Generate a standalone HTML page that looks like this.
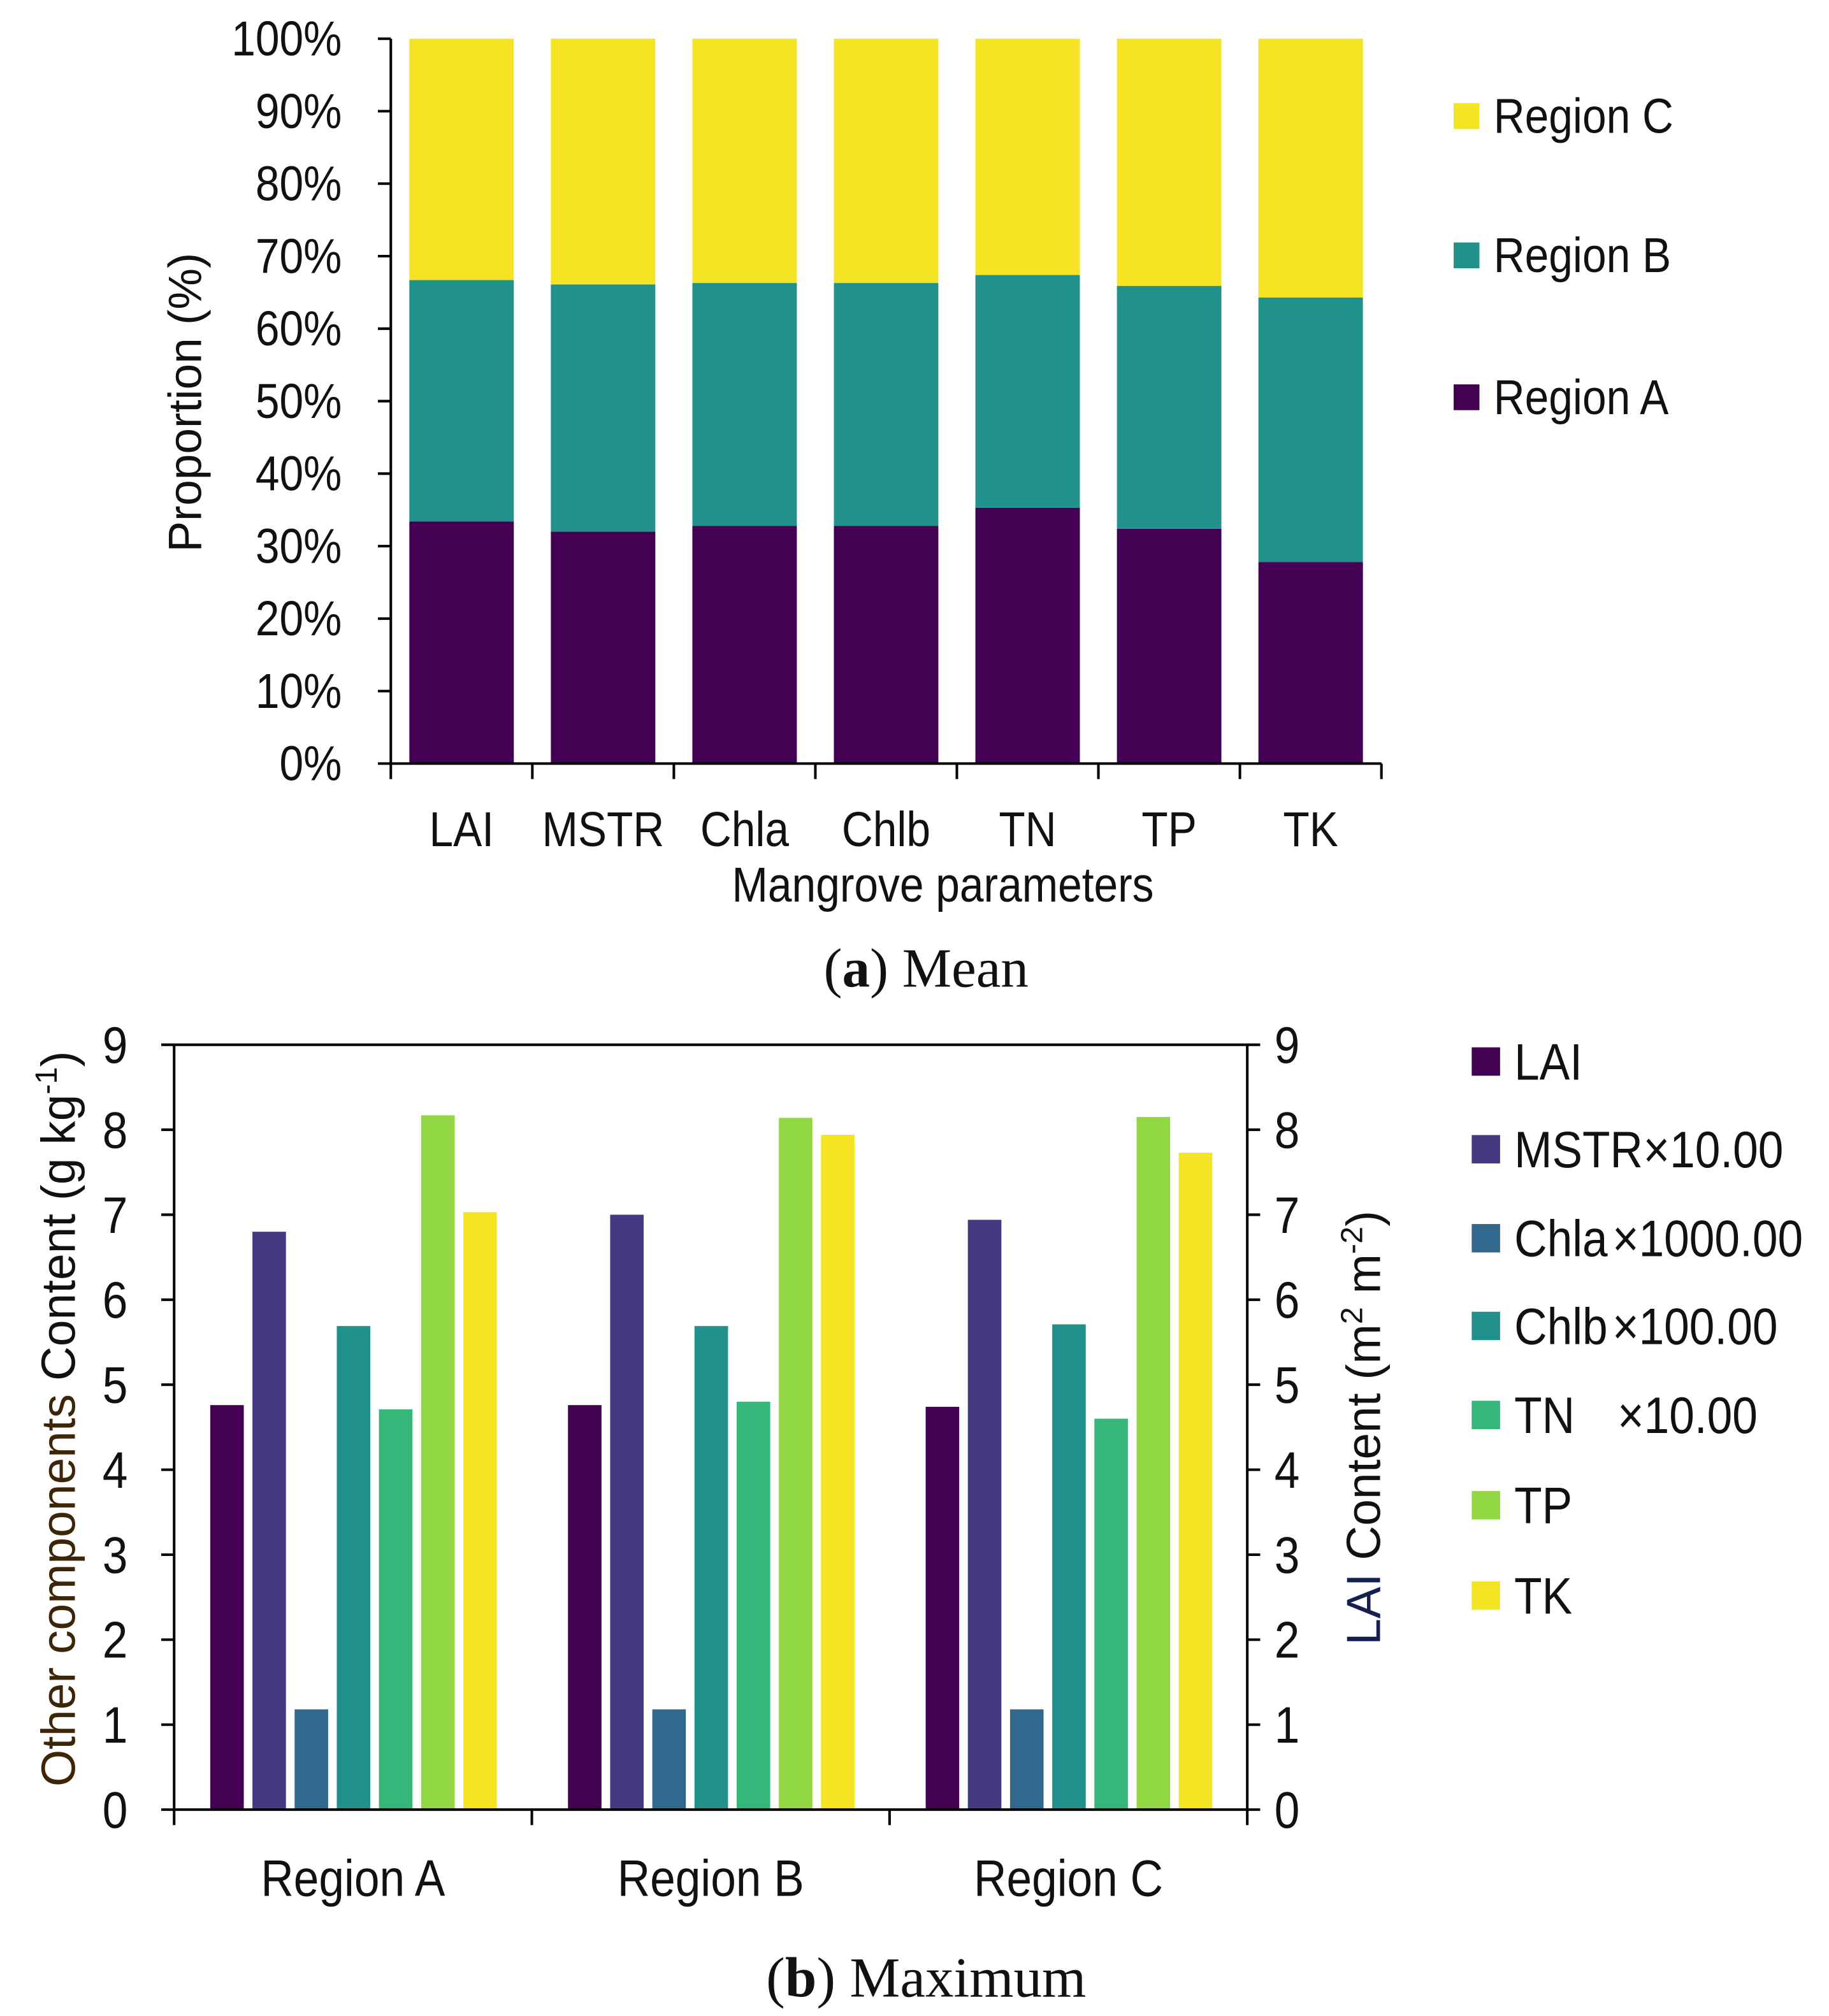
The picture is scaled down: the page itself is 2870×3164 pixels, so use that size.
<!DOCTYPE html>
<html><head><meta charset="utf-8"><style>
html,body{margin:0;padding:0;background:#fff}
svg{display:block}
text{font-family:"Liberation Sans",sans-serif;fill:#111}
.serif{font-family:"Liberation Serif",serif}
</style></head><body>
<svg id="fig" width="2870" height="3164" viewBox="0 0 1418 1563" preserveAspectRatio="none" xmlns="http://www.w3.org/2000/svg">
<g id="chartA"></g>
<g id="chartB"></g>
</svg>
<script>
// ---- Chart A data ----
const catsA = ["LAI","MSTR","Chla","Chlb","TN","TP","TK"];
const regionA = [33.4,32.0,32.8,32.8,35.3,32.4,27.8];
const regionB = [33.3,34.1,33.5,33.5,32.1,33.5,36.5];
const regionC = [33.3,33.9,33.7,33.7,32.6,34.1,35.7];
const ticksA = ["0%","10%","20%","30%","40%","50%","60%","70%","80%","90%","100%"];
// ---- Chart B data ----
const groupsB = ["Region A","Region B","Region C"];
const seriesB = ["LAI","MSTR","Chla","Chlb","TN","TP","TK"];
const suffixB = ["","×10.00","×1000.00","×100.00","×10.00","",""];
const valsLAI = [4.76,4.76,4.74];
const valsMSTR = [6.80,7.00,6.94];
const valsChla = [1.18,1.18,1.18];
const valsChlb = [5.69,5.69,5.71];
const valsTN = [4.71,4.80,4.60];
const valsTP = [8.17,8.14,8.15];
const valsTK = [7.03,7.94,7.73];
const ticksB = ["0","1","2","3","4","5","6","7","8","9"];

const NS="http://www.w3.org/2000/svg";
const SX=0.88;
function mk(parent,tag,attrs,txt){const e=document.createElementNS(NS,tag);for(const k in attrs)e.setAttribute(k,attrs[k]);if(txt!==undefined)e.textContent=txt;parent.appendChild(e);return e;}
function ntext(parent,x,y,size,anchor,str){
  return mk(parent,'text',{x:0,y:0,'font-size':size,'text-anchor':anchor,transform:`translate(${x},${y}) scale(${SX},1)`},str);
}

// ===== Chart A =====
const gA=document.getElementById('chartA');
const aL=303,aR=1071,aT=30,aB=592;
const yA=v=>aB-(v/100)*(aB-aT);
const bandA=(aR-aL)/catsA.length;
const xA=i=>aL+bandA*i;
const bwA=81;
const colA=["#440154","#21918c","#f5e424"];
catsA.forEach((c,i)=>{
  const x=xA(i)+(bandA-bwA)/2;
  let base=0;
  [regionA[i],regionB[i],regionC[i]].forEach((v,s)=>{
    const r=mk(gA,'rect',{x:x,y:yA(base+v),width:bwA,height:yA(base)-yA(base+v),fill:colA[s]});
    
    
    base+=v;
  });
  const t=ntext(gA,xA(i)+bandA/2,656,38,'middle',c);
  
  
});
const axA=mk(gA,'path',{d:`M${aL},${aT}V${aB}H${aR}`,stroke:'#000','stroke-width':2,fill:'none'});

for(let i=0;i<=catsA.length;i++){const p=mk(gA,'line',{x1:xA(i),x2:xA(i),y1:aB,y2:aB+12,stroke:'#000','stroke-width':2});}
ticksA.forEach((t,i)=>{
  const v=i*10;
  mk(gA,'line',{x1:aL-10,x2:aL,y1:yA(v),y2:yA(v),stroke:'#000','stroke-width':2});
  const e=ntext(gA,265,yA(v)+13,38,'end',t);
  
});
let e;
e=mk(gA,'text',{x:0,y:0,'font-size':36,'text-anchor':'middle',transform:'translate(156,312) rotate(-90)'},'Proportion (%)');

e=ntext(gA,731,699,38,'middle','Mangrove parameters');

e=mk(gA,'text',{x:718,y:765,'font-size':43,'text-anchor':'middle',class:'serif'});
e.innerHTML='(<tspan font-weight="bold">a</tspan>) Mean';

[["Region C",90,colA[2]],["Region B",198,colA[1]],["Region A",308,colA[0]]].forEach(([n,y,c])=>{
  const g=mk(gA,'g',{});
  
  
  mk(g,'rect',{x:1127,y:y-10,width:20,height:20,fill:c});
  ntext(g,1158,y+13,38,'start',n);
});

// ===== Chart B =====
const gB=document.getElementById('chartB');
const bL=135,bR=967,bT=810,bB=1403;
const yB=v=>bB-(v/9)*(bB-bT);
const bandB=(bR-bL)/groupsB.length;
const allB=[valsLAI,valsMSTR,valsChla,valsChlb,valsTN,valsTP,valsTK];
const colB=["#440154","#443983","#31688e","#21918c","#35b779","#90d743","#f5e424"];
const stepB=32.7,bwB=26;
groupsB.forEach((gname,gi)=>{
  allB.forEach((arr,si)=>{
    const x=bL+bandB*gi+28+si*stepB;
    const r=mk(gB,'rect',{x:x,y:yB(arr[gi]),width:bwB,height:yB(0)-yB(arr[gi]),fill:colB[si]});
    
    
  });
  const t=ntext(gB,bL+bandB*(gi+0.5),1470,40,'middle',gname);
  
  
});
e=mk(gB,'rect',{x:bL,y:bT,width:bR-bL,height:bB-bT,fill:'none',stroke:'#000','stroke-width':2});

for(let i=0;i<=groupsB.length;i++){mk(gB,'line',{x1:bL+bandB*i,x2:bL+bandB*i,y1:bB,y2:bB+12,stroke:'#000','stroke-width':2});}
ticksB.forEach((t,i)=>{
  mk(gB,'line',{x1:bL-10,x2:bL,y1:yB(i),y2:yB(i),stroke:'#000','stroke-width':2});
  mk(gB,'line',{x1:bR,x2:bR+10,y1:yB(i),y2:yB(i),stroke:'#000','stroke-width':2});
  let a=ntext(gB,99,yB(i)+14,40,'end',t);
  
  a=ntext(gB,988,yB(i)+14,40,'start',t);
  
});
e=mk(gB,'text',{x:0,y:0,'font-size':37,'text-anchor':'middle',transform:'translate(58,1100) rotate(-90)'});
e.innerHTML='<tspan fill="#3d2608">Other components</tspan>  Content (g kg<tspan font-size="24" dy="-14">-1</tspan><tspan dy="14">)</tspan>';

e=mk(gB,'text',{x:0,y:0,'font-size':37,'text-anchor':'middle',transform:'translate(1070,1107) rotate(-90)'});
e.innerHTML='<tspan fill="#14204f">LAI</tspan>  Content (m<tspan font-size="24" dy="-14">2</tspan><tspan dy="14"> m</tspan><tspan font-size="24" dy="-14">-2</tspan><tspan dy="14">)</tspan>';

e=mk(gB,'text',{x:718,y:1548,'font-size':44,'text-anchor':'middle',class:'serif'});
e.innerHTML='(<tspan font-weight="bold">b</tspan>) Maximum';

const legY=[823,891,960,1028,1097,1167,1237];
const sufX=[0,1274,1250,1250,1254,0,0];
seriesB.forEach((s,i)=>{
  const g=mk(gB,'g',{});
  
  
  mk(g,'rect',{x:1141,y:legY[i]-11,width:22,height:22,fill:colB[i]});
  ntext(g,1174,legY[i]+14,40,'start',s);
  if(suffixB[i]) ntext(g,sufX[i],legY[i]+14,40,'start',suffixB[i]);
});
</script>
</body></html>
